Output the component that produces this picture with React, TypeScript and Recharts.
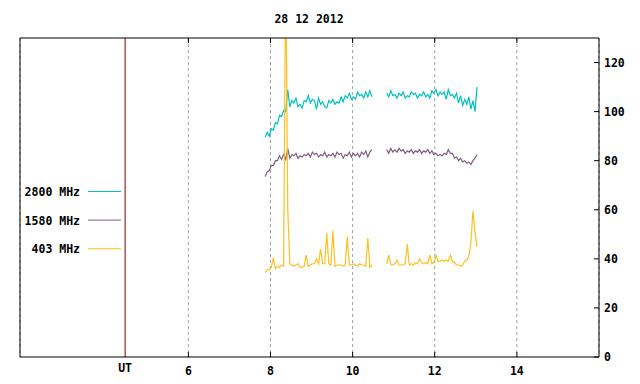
import { CartesianGrid, ComposedChart, Line, ReferenceLine, XAxis, YAxis } from "recharts";

const title = "28 12 2012";
const seriesNames = ["2800 MHz", "1580 MHz", "403 MHz"];
const seriesKeys = ["f2800", "f1580", "f403"];
const seriesColors = ["#00c0c0", "#7f5f7f", "#ffc020"];
const xTicks = [6, 8, 10, 12, 14];
const yTicks = [0, 20, 40, 60, 80, 100, 120];
const utHour = 4.46;
const utLabel = "UT";

// sample times (hours UT) of the two observing runs, one sample every 3 minutes
const runStarts = [7.87, 10.83];
const sampleStep = 0.05;

const f2800Morning = [
  89.5, 91.5, 90, 93, 92.5, 95.5, 95, 98.5, 98, 100.5, 100, 109, 102, 104.5, 103.5, 105.5, 102, 103,
  101.5, 104.5, 104, 106.5, 103.5, 105, 104.5, 101, 105.5, 103, 104, 102, 101.5, 104.5, 103.5, 105,
  103, 104, 103.5, 106, 104, 106.5, 105.5, 107.5, 105, 106, 105, 108, 106.5, 107, 105.5, 108, 106,
  108.5, 106,
];
const f2800Afternoon = [
  107.5, 106, 108.5, 106.5, 107, 105.5, 107.5, 106.5, 108, 105.5, 106.5, 106, 108, 107, 107.5, 105.5,
  107, 106.5, 108, 106, 107, 105.5, 108.5, 107.5, 109, 106.5, 108, 107, 108, 105, 109, 106.5, 107,
  105.5, 107.5, 103.5, 106.5, 102.5, 105, 103, 106, 101, 104.5, 100, 110,
];
const f1580Morning = [
  73.5, 75.5, 76, 78, 78, 80, 80, 82, 80.5, 82.5, 80.5, 85, 81, 82.5, 82, 83, 81, 82, 81.5, 82.5, 82,
  83, 81.5, 83.5, 82.5, 83, 81.5, 82.5, 82, 83.5, 81.5, 82.5, 82, 83, 81.5, 83.5, 82.5, 83, 81, 82.5,
  82, 83.5, 81.5, 83, 82, 83, 81.5, 83.5, 82.5, 84, 81.5, 83.5, 84.5,
];
const f1580Afternoon = [
  84.5, 83, 85, 83.5, 84.5, 83.5, 85, 84, 84.5, 83, 84, 83.5, 84.5, 83, 84, 83.5, 84.5, 83, 84, 83.5,
  84.5, 83, 84, 82.5, 83, 82, 82.5, 82, 83, 82.5, 84.5, 83, 83, 81, 81.5, 80, 81, 79.5, 80, 79, 79.5,
  78.5, 80, 81, 82.5,
];
const f403Morning = [
  34.5, 35.5, 35.5, 36.5, 40.5, 36, 37, 36.5, 37.5, 37, 160, 60.5, 38, 37.5, 37, 37.5, 38, 36.5,
  36.5, 37, 41.5, 37, 37.5, 38, 38, 40, 38, 44, 38, 38, 50.5, 38, 37.5, 51.5, 37, 37.5, 37.5, 37.5,
  37, 37.5, 49, 37.5, 37.5, 38, 37.5, 37, 38, 37.5, 37.5, 37, 48.5, 36.5, 37.5,
];
const f403Afternoon = [
  38, 41.5, 37.5, 37.5, 38, 39.5, 37.5, 37.5, 37.5, 38, 46, 37.5, 38, 37.5, 38.5, 38, 40, 38.5, 38,
  38.5, 38, 41.5, 38, 38.5, 41.5, 39, 39, 39.5, 39, 39.5, 39, 41.5, 39, 38.5, 37.5, 37.5, 37, 37.5,
  39, 39.5, 41, 46.5, 59.5, 51, 45,
];

type Row = { t: number; f2800: number | null; f1580: number | null; f403: number | null };

function buildRun(start: number, a: number[], b: number[], c: number[]): Row[] {
  return a.map((v, i) => ({
    t: +(start + i * sampleStep).toFixed(3),
    f2800: v,
    f1580: b[i],
    f403: c[i],
  }));
}

const rows: Row[] = [
  ...buildRun(runStarts[0], f2800Morning, f1580Morning, f403Morning),
  { t: 10.65, f2800: null, f1580: null, f403: null },
  ...buildRun(runStarts[1], f2800Afternoon, f1580Afternoon, f403Afternoon),
];

const font = { fontFamily: "'DejaVu Sans Mono', monospace", fontSize: 11.5, fontWeight: 700 };

function BottomTick({ x, y, payload }: any) {
  return (
    <g>
      <line x1={x} x2={x} y1={y - 5} y2={y} stroke="#000" />
      <text x={x} y={y + 18} textAnchor="middle" fill="#000" style={font}>
        {payload.value}
      </text>
    </g>
  );
}

function TopTick({ x, y }: any) {
  return <line x1={x} x2={x} y1={y} y2={y + 5} stroke="#000" />;
}

function RightTick({ x, y, payload }: any) {
  return (
    <g>
      <line x1={x - 5} x2={x} y1={y} y2={y} stroke="#000" />
      <text x={x + 5} y={y + 4} textAnchor="start" fill="#000" style={font}>
        {payload.value}
      </text>
    </g>
  );
}

function UtLabel({ viewBox }: any) {
  return (
    <text x={viewBox.x} y={viewBox.y + viewBox.height + 15} textAnchor="middle" fill="#000" style={font}>
      {utLabel}
    </text>
  );
}

export default function App() {
  return (
    <div style={{ position: "absolute", left: 0, top: 0, width: 640, height: 384, background: "#fff" }}>
      <ComposedChart width={640} height={384} data={rows} margin={{ top: 37, right: 0, bottom: 0, left: 19 }}>
        <CartesianGrid
          xAxisId="bottom"
          yAxisId="right"
          horizontal={false}
          stroke="#a0a0a0"
          strokeDasharray="3 3"
        />
        <XAxis
          xAxisId="bottom"
          dataKey="t"
          type="number"
          domain={[1.9, 16.0]}
          allowDataOverflow
          ticks={xTicks}
          height={27}
          tickSize={0}
          tickMargin={0}
          tickLine={false}
          axisLine={{ stroke: "#000" }}
          tick={<BottomTick />}
        />
        <XAxis
          xAxisId="top"
          orientation="top"
          dataKey="t"
          type="number"
          domain={[1.9, 16.0]}
          allowDataOverflow
          ticks={xTicks}
          height={1}
          tickSize={0}
          tickMargin={0}
          tickLine={false}
          axisLine={{ stroke: "#000" }}
          tick={<TopTick />}
        />
        <YAxis
          yAxisId="right"
          orientation="right"
          type="number"
          domain={[0, 130]}
          allowDataOverflow
          ticks={yTicks}
          width={41}
          tickSize={0}
          tickMargin={0}
          tickLine={false}
          axisLine={{ stroke: "#000" }}
          tick={<RightTick />}
        />
        <YAxis
          yAxisId="left"
          orientation="left"
          type="number"
          domain={[0, 130]}
          ticks={yTicks}
          width={1}
          tickSize={0}
          tickMargin={0}
          tickLine={false}
          tick={false}
          axisLine={{ stroke: "#000" }}
        />
        <ReferenceLine
          x={utHour}
          xAxisId="bottom"
          yAxisId="right"
          stroke="#800000"
          label={<UtLabel />}
        />
        {seriesKeys.map((key, i) => (
          <Line
            key={key}
            xAxisId="bottom"
            yAxisId="right"
            dataKey={key}
            type="linear"
            stroke={seriesColors[i]}
            strokeWidth={1.2}
            dot={false}
            activeDot={false}
            connectNulls={false}
            isAnimationActive={false}
          />
        ))}
      </ComposedChart>
      <svg
        width={640}
        height={384}
        style={{ position: "absolute", left: 0, top: 0, pointerEvents: "none" }}
      >
        <text x={309} y={23} textAnchor="middle" fill="#000" style={font}>
          {title}
        </text>
        {seriesNames.map((name, i) => (
          <g key={name}>
            <text x={80} y={196 + i * 28.6} textAnchor="end" fill="#000" style={font}>
              {name}
            </text>
            <line x1={88} x2={121} y1={191.5 + i * 28.6} y2={191.5 + i * 28.6} stroke={seriesColors[i]} />
          </g>
        ))}
      </svg>
    </div>
  );
}
